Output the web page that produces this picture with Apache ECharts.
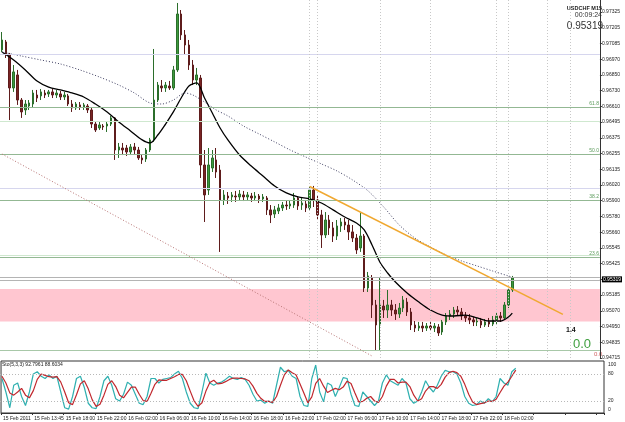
<!DOCTYPE html>
<html>
<head>
<meta charset="utf-8">
<script src="https://cdn.jsdelivr.net/npm/echarts@6/dist/echarts.min.js"></script>
<style>
  html, body { margin: 0; padding: 0; background: #fff; }
  #main { width: 625px; height: 422px; }
</style>
</head>
<body>
<div id="main"></div>
<script>
// price axis tick labels, bottom to top
const priceTicks = ['0.94715','0.94835','0.94950','0.95070','0.95185','0.95305','0.95425','0.95545','0.95660','0.95780',
  '0.95900','0.96020','0.96135','0.96255','0.96375','0.96495','0.96610','0.96730','0.96850','0.96970','0.97085','0.97205','0.97325'];
const currentPrice = '0.95319';
// time axis labels, one every 8 bars
const timeTicks = ['15 Feb 2011','15 Feb 13:45','15 Feb 18:00','15 Feb 22:00','16 Feb 02:00','16 Feb 06:00','16 Feb 10:00',
  '16 Feb 14:00','16 Feb 18:00','16 Feb 22:00','17 Feb 02:00','17 Feb 06:00','17 Feb 10:00','17 Feb 14:00','17 Feb 18:00',
  '17 Feb 22:00','18 Feb 02:00'];

// candles: [open, close, low, high]
const candles = [
  [0.97039,0.97114,0.97023,0.97174],[0.97099,0.97001,0.96978,0.97114],[0.97001,0.96752,0.96510,0.97016],[0.96752,0.96873,0.96722,0.96925],
  [0.96850,0.96661,0.96624,0.96888],[0.96661,0.96571,0.96526,0.96676],[0.96586,0.96631,0.96548,0.96661],[0.96616,0.96639,0.96586,0.96661],
  [0.96631,0.96714,0.96601,0.96737],[0.96699,0.96676,0.96646,0.96737],[0.96692,0.96722,0.96661,0.96744],[0.96714,0.96699,0.96676,0.96737],
  [0.96707,0.96722,0.96684,0.96737],[0.96722,0.96699,0.96676,0.96744],[0.96699,0.96714,0.96676,0.96737],[0.96707,0.96684,0.96661,0.96729],
  [0.96684,0.96699,0.96661,0.96722],[0.96692,0.96631,0.96616,0.96707],[0.96631,0.96601,0.96571,0.96661],[0.96601,0.96631,0.96586,0.96646],
  [0.96624,0.96609,0.96586,0.96646],[0.96609,0.96624,0.96586,0.96639],[0.96616,0.96586,0.96563,0.96631],[0.96586,0.96480,0.96450,0.96601],
  [0.96480,0.96435,0.96420,0.96495],[0.96450,0.96473,0.96435,0.96495],[0.96465,0.96458,0.96435,0.96480],[0.96465,0.96480,0.96420,0.96495],
  [0.96480,0.96526,0.96465,0.96541],[0.96526,0.96284,0.96209,0.96533],[0.96284,0.96307,0.96224,0.96337],[0.96299,0.96284,0.96246,0.96337],
  [0.96299,0.96269,0.96239,0.96322],[0.96269,0.96307,0.96246,0.96329],[0.96307,0.96284,0.96254,0.96337],[0.96284,0.96224,0.96209,0.96307],
  [0.96224,0.96209,0.96179,0.96246],[0.96216,0.96284,0.96194,0.96299],[0.96284,0.96360,0.96269,0.96375],[0.96360,0.96661,0.96345,0.97046],
  [0.96661,0.96774,0.96646,0.96797],[0.96767,0.96752,0.96722,0.96812],[0.96752,0.96774,0.96722,0.96797],[0.96767,0.96752,0.96737,0.96805],
  [0.96752,0.96888,0.96737,0.96918],[0.96888,0.97310,0.96873,0.97393],[0.97310,0.97152,0.97114,0.97340],[0.97152,0.97076,0.97001,0.97189],
  [0.97076,0.96925,0.96888,0.97114],[0.96925,0.96812,0.96774,0.96963],[0.96812,0.96850,0.96774,0.96903],[0.96827,0.96171,0.96073,0.96850],
  [0.96171,0.95945,0.95741,0.96284],[0.95982,0.96171,0.95945,0.96299],[0.96148,0.96224,0.96118,0.96284],[0.96209,0.96118,0.96073,0.96299],
  [0.96133,0.95907,0.95515,0.96171],[0.95907,0.95945,0.95869,0.95982],[0.95937,0.95922,0.95877,0.95967],[0.95930,0.95945,0.95892,0.95967],
  [0.95937,0.95930,0.95892,0.95975],[0.95930,0.95952,0.95907,0.95982],[0.95945,0.95930,0.95899,0.95975],[0.95930,0.95945,0.95907,0.95967],
  [0.95937,0.95922,0.95892,0.95960],[0.95922,0.95937,0.95899,0.95967],[0.95937,0.95915,0.95884,0.95952],[0.95915,0.95930,0.95892,0.95952],
  [0.95922,0.95832,0.95794,0.95937],[0.95832,0.95794,0.95733,0.95869],[0.95801,0.95832,0.95771,0.95862],[0.95824,0.95847,0.95801,0.95877],
  [0.95847,0.95869,0.95824,0.95892],[0.95869,0.95862,0.95832,0.95899],[0.95862,0.95877,0.95839,0.95907],[0.95869,0.95922,0.95847,0.95960],
  [0.95922,0.95862,0.95832,0.95937],[0.95869,0.95884,0.95832,0.95922],[0.95877,0.95847,0.95816,0.95907],[0.95847,0.95982,0.95832,0.96005],
  [0.95982,0.95907,0.95854,0.96013],[0.95907,0.95794,0.95756,0.95937],[0.95794,0.95643,0.95545,0.95832],[0.95643,0.95756,0.95620,0.95816],
  [0.95756,0.95696,0.95643,0.95794],[0.95696,0.95635,0.95590,0.95741],[0.95635,0.95711,0.95605,0.95756],[0.95711,0.95741,0.95666,0.95771],
  [0.95741,0.95718,0.95681,0.95771],[0.95718,0.95666,0.95605,0.95756],[0.95666,0.95620,0.95590,0.95718],[0.95620,0.95530,0.95500,0.95650],
  [0.95545,0.95635,0.95515,0.95809],[0.95635,0.95243,0.95213,0.95650],[0.95243,0.95334,0.95213,0.95364],[0.95319,0.95115,0.95017,0.95341],
  [0.95115,0.94964,0.94775,0.95153],[0.94964,0.95115,0.94775,0.95319],[0.95107,0.95077,0.95017,0.95153],[0.95077,0.95115,0.95017,0.95228],
  [0.95115,0.95077,0.95032,0.95153],[0.95077,0.95047,0.95002,0.95122],[0.95047,0.95092,0.95017,0.95130],[0.95092,0.95153,0.95062,0.95183],
  [0.95137,0.95062,0.95032,0.95168],[0.95062,0.94964,0.94926,0.95092],[0.94964,0.94941,0.94911,0.94994],[0.94941,0.94956,0.94919,0.94987],
  [0.94956,0.94941,0.94911,0.94987],[0.94941,0.94956,0.94919,0.94979],[0.94956,0.94941,0.94919,0.94987],[0.94941,0.94956,0.94911,0.94979],
  [0.94949,0.94904,0.94881,0.94971],[0.94911,0.94987,0.94889,0.95002],[0.94987,0.95032,0.94964,0.95054],[0.95032,0.95047,0.95002,0.95077],
  [0.95047,0.95077,0.95017,0.95100],[0.95077,0.95062,0.95032,0.95107],[0.95062,0.95032,0.95002,0.95092],[0.95032,0.95017,0.94987,0.95062],
  [0.95017,0.95002,0.94971,0.95047],[0.95002,0.94987,0.94956,0.95024],[0.94987,0.94994,0.94956,0.95017],[0.94994,0.94964,0.94941,0.95017],
  [0.94964,0.94987,0.94949,0.95009],[0.94987,0.94971,0.94949,0.95017],[0.94971,0.95002,0.94956,0.95032],[0.95002,0.95032,0.94971,0.95062],
  [0.95032,0.95017,0.94987,0.95062],[0.95017,0.95115,0.95002,0.95137],[0.95115,0.95228,0.95092,0.95243],[0.95228,0.95319,0.95213,0.95334]
];

// moving averages: [bar index, price]
const maFast = [[0,0.97023],[3,0.96963],[6,0.96888],[9,0.96805],[12,0.96759],[15,0.96737],[18,0.96714],[21,0.96684],[24,0.96631],
  [27,0.96571],[30,0.96495],[33,0.96428],[36,0.96360],[38,0.96337],[40,0.96397],[42,0.96480],[44,0.96571],[46,0.96676],[48,0.96767],
  [50,0.96790],[52,0.96676],[54,0.96563],[56,0.96450],[58,0.96360],[61,0.96246],[64,0.96163],[67,0.96088],[70,0.96013],[73,0.95960],
  [76,0.95930],[79,0.95915],[82,0.95884],[85,0.95832],[88,0.95779],[91,0.95733],[93,0.95681],[95,0.95568],[97,0.95439],[99,0.95356],
  [101,0.95288],[104,0.95205],[107,0.95137],[110,0.95077],[113,0.95039],[116,0.95032],[119,0.95039],[122,0.95017],[125,0.94994],
  [128,0.94994],[130,0.95024],[131,0.95054]];
const maSlow = [[0,0.97023],[5,0.96993],[10,0.96963],[15,0.96933],[20,0.96888],[25,0.96835],[30,0.96774],[34,0.96714],[38,0.96639],
  [41,0.96631],[44,0.96661],[47,0.96714],[49,0.96699],[52,0.96646],[55,0.96586],[58,0.96541],[62,0.96465],[66,0.96405],[70,0.96345],
  [74,0.96284],[78,0.96231],[82,0.96179],[86,0.96126],[90,0.96058],[94,0.95975],[98,0.95854],[102,0.95718],[106,0.95620],[110,0.95552],
  [114,0.95492],[118,0.95447],[122,0.95409],[126,0.95371],[130,0.95334],[131,0.95326]];

// stochastic (5,3,3)
const stochMain = [70,40,5,55,60,30,10,40,80,85,75,70,78,70,75,40,5,2,30,70,75,50,15,5,3,30,65,75,55,25,20,35,62,55,35,15,12,30,70,70,
  60,68,70,72,80,86,70,40,15,5,3,40,82,60,55,60,62,68,75,70,68,72,68,55,35,20,22,15,20,15,55,95,85,88,75,70,30,10,8,70,
  100,40,18,60,55,30,50,72,70,35,10,8,40,30,20,10,20,60,78,65,60,55,70,60,25,15,20,40,65,50,40,55,75,88,85,85,80,60,30,15,
  10,12,20,15,25,18,30,70,60,55,85,92.8];
const stochSignal = [75,60,38,33,40,48,33,27,43,68,80,77,74,73,74,62,40,16,12,34,58,65,47,23,8,13,33,57,65,52,33,27,39,51,51,35,21,19,37,57,
  67,66,66,70,74,79,79,65,42,20,8,16,42,61,66,58,59,63,68,71,71,70,69,65,53,37,26,19,19,17,30,55,78,89,83,78,58,37,16,29,
  59,70,53,39,44,48,45,51,64,59,38,18,19,26,30,20,17,30,53,68,68,60,62,62,52,33,20,25,42,52,52,48,57,73,83,86,83,75,57,35,
  18,12,14,16,20,19,24,39,53,62,75,88.6];

// horizontal levels
const fibNames = ['61.8','50.0','38.2','23.6'];
const fibPrices = [0.96609,0.96254,0.95907,0.95477];
const fibZero = 0.94772;
const lavenderLevels = [0.97008,0.95997];
const paleGreenLevels = [0.96503,0.95492];
const greyLevels = [0.95322,0.95305];
const pinkZone = [0.94990,0.95236];
// trend lines: [bar, price] pairs
const orangeTrend = [[79,0.96009],[144,0.95044]];
const redTrend = [[0,0.96254],[95,0.94730]];
// vertical dotted lines (bar index)
const vLines = [79,81,97,110,127,130,140,146];

const N = 154;
const cats = Array.from({length: N}, (_, i) => String(i));
const font = 'Liberation Sans, Arial, sans-serif';

const chart = echarts.init(document.getElementById('main'));

const hLine = (price, color, type, label) => ({
  yAxis: price,
  lineStyle: { color: color, width: 1, type: type || 'solid' },
  label: label ? { show: true, formatter: label, position: 'insideEndTop', color: '#5a9a5a', fontSize: 5, fontFamily: font, distance: 1 } : { show: false }
});

const markLines = [];
lavenderLevels.forEach(p => markLines.push(hLine(p, '#d6d6ee')));
paleGreenLevels.forEach(p => markLines.push(hLine(p, '#cfe8cf')));
fibPrices.forEach((p, i) => markLines.push(hLine(p, '#93b893', 'solid', fibNames[i])));
markLines.push(hLine(fibZero, '#a8c8a8'));
greyLevels.forEach(p => markLines.push(hLine(p, '#b4b4b4')));
vLines.forEach(x => markLines.push({ xAxis: String(x), lineStyle: { color: '#c8c8c8', type: [1, 2], width: 1 }, label: { show: false } }));
markLines.push([
  { coord: [String(orangeTrend[0][0]), orangeTrend[0][1]], lineStyle: { color: '#f0a830', width: 1.5, type: 'solid' } },
  { coord: [String(orangeTrend[1][0]), orangeTrend[1][1]] }
]);
markLines.push([
  { coord: [String(redTrend[0][0]), redTrend[0][1]], lineStyle: { color: '#b87474', width: 1, type: [1, 2] } },
  { coord: [String(redTrend[1][0]), redTrend[1][1]] }
]);

chart.setOption({
  animation: false,
  backgroundColor: '#ffffff',
  textStyle: { fontFamily: font },
  grid: [
    { left: 0, width: 604, top: 0, height: 358 },
    { left: 0, width: 604, top: 361, height: 52, show: true, borderColor: '#333', borderWidth: 1, backgroundColor: 'transparent' },
    { left: 0, width: 604, top: 365, height: 45 }
  ],
  xAxis: [
    { gridIndex: 0, type: 'category', data: cats, boundaryGap: true, show: false },
    { gridIndex: 1, type: 'category', data: cats, boundaryGap: true,
      axisLine: { show: true, lineStyle: { color: '#333' } },
      axisTick: { show: true, interval: 7, length: 2, lineStyle: { color: '#333' } },
      axisLabel: { interval: 7, align: 'left', margin: 3, fontSize: 5, color: '#222', fontFamily: font,
        formatter: (v, i) => timeTicks[i / 8] || '' } },
    { gridIndex: 2, type: 'category', data: cats, boundaryGap: true, show: false }
  ],
  yAxis: [
    { gridIndex: 0, type: 'value', position: 'right', min: 0.94715, max: 0.974155, interval: 0.00118636,
      axisLine: { show: true, lineStyle: { color: '#333' } },
      axisTick: { show: true, length: 2, lineStyle: { color: '#333' } },
      splitLine: { show: false },
      axisLabel: { showMaxLabel: false, fontSize: 5, color: '#222', margin: 2, fontFamily: font,
        formatter: v => {
          const k = Math.round((v - 0.94715) / 0.00118636);
          return k === 5 ? '{cur|' + currentPrice + '}' : (priceTicks[k] || '');
        },
        rich: { cur: { backgroundColor: '#000', color: '#fff', fontSize: 5, padding: [1, 1, 0, 1], fontFamily: font } } } },
    { gridIndex: 1, type: 'value', show: false },
    { gridIndex: 2, type: 'value', position: 'right', min: 0, max: 100, interval: 20,
      axisLine: { show: false }, axisTick: { show: false }, splitLine: { show: false },
      axisLabel: { fontSize: 5, color: '#222', margin: 4, fontFamily: font,
        formatter: v => ([0, 20, 80, 100].indexOf(v) >= 0 ? String(v) : '') } }
  ],
  series: [
    { type: 'candlestick', xAxisIndex: 0, yAxisIndex: 0, data: candles, barWidth: 2,
      itemStyle: { color: '#3d9a3d', color0: '#7a2424', borderColor: '#2b6e2b', borderColor0: '#5e1c1c', borderWidth: 1 },
      markArea: { silent: true, precision: 5, itemStyle: { color: '#ffc6d0' }, data: [[{ yAxis: pinkZone[0] }, { yAxis: pinkZone[1] }]] },
      markLine: { silent: true, symbol: 'none', precision: 5, animation: false, data: markLines } },
    { type: 'line', xAxisIndex: 0, yAxisIndex: 0, data: maFast, showSymbol: false, smooth: 0.3,
      lineStyle: { color: '#000', width: 1.3 } },
    { type: 'line', xAxisIndex: 0, yAxisIndex: 0, data: maSlow, showSymbol: false, smooth: 0.3,
      lineStyle: { color: '#3c3c60', width: 1, type: [1, 2] } },
    { type: 'line', xAxisIndex: 2, yAxisIndex: 2, data: stochMain, showSymbol: false,
      lineStyle: { color: '#2fb0b0', width: 1.2 },
      markLine: { silent: true, symbol: 'none', label: { show: false },
        lineStyle: { color: '#b8b8b8', type: [1, 2], width: 1 }, data: [{ yAxis: 80 }, { yAxis: 20 }] } },
    { type: 'line', xAxisIndex: 2, yAxisIndex: 2, data: stochSignal, showSymbol: false,
      lineStyle: { color: '#c0272d', width: 1.2 } }
  ],
  graphic: [
    { type: 'text', right: 23, top: 5, style: { text: 'USDCHF M15', fill: '#222', font: 'bold 5.5px Liberation Sans' } },
    { type: 'text', right: 23, top: 12, style: { text: '00:09:24', fill: '#333', font: '7px Liberation Sans' } },
    { type: 'text', right: 22, top: 21, style: { text: currentPrice, fill: '#333', font: '10px Liberation Sans' } },
    { type: 'text', left: 2, top: 362, style: { text: 'Sto(5,3,3) 92.7961 88.6034', fill: '#222', font: '5px Liberation Sans' } },
    { type: 'text', left: 566, top: 327, style: { text: '1.4', fill: '#111', font: 'bold 7px Liberation Sans' } },
    { type: 'text', left: 573, top: 338, style: { text: '0.0', fill: '#3f9f3f', font: '13px Liberation Sans' } },
    { type: 'text', left: 594, top: 351, style: { text: '0.0', fill: '#d06060', font: '6px Liberation Sans' } }
  ]
});
</script>
</body>
</html>
